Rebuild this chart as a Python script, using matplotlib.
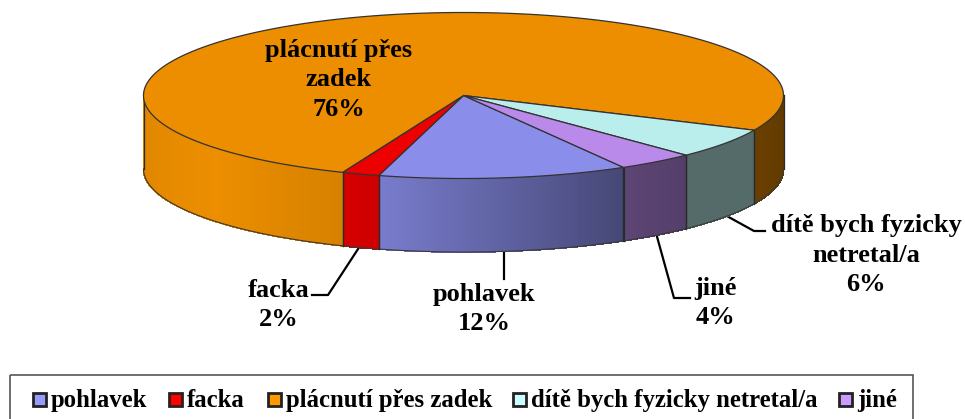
import numpy as np
import matplotlib
matplotlib.use('Agg')
import matplotlib.pyplot as plt
from matplotlib.patches import Rectangle

plt.rcParams['font.family'] = ['Liberation Serif']
plt.rcParams['font.weight'] = 'bold'

# pie data, clockwise from the pohlavek slice
categories = ['pohlavek', 'facka', 'plácnutí přes zadek', 'dítě bych fyzicky netretal/a', 'jiné']
values = [12.6, 1.9, 75.7, 5.9, 3.9]
top_colors = ['#8A8EEA', '#EC0000', '#EC8E00', '#BAEEEC', '#BA8AEA']
legend_colors = ['#9999FF', '#FF0000', '#FF9900', '#CCFFFF', '#CC99FF']

# geometry in pixels
cx, cy = 463.5, 95.5
rx, ry = 320, 83
depth = 73.5
start_angle = -60.0

# side shading by angle
shade_t = [-180, -140, -115, -105, -60, -46, -25, 0]
shade_v = [0.94, 1.0, 0.92, 0.87, 0.50, 0.45, 0.45, 0.40]


def ell(t):
    t = np.radians(t)
    return cx + rx * np.cos(t), cy - ry * np.sin(t)


fig = plt.figure(figsize=(9.65, 4.19), dpi=100)
ax = fig.add_axes([0, 0, 1, 1])
ax.set_xlim(0, 965)
ax.set_ylim(419, 0)
ax.axis('off')

edges = start_angle - np.cumsum([0] + values) * 3.6

# sides first, only the front half can be seen
for i in range(len(values)):
    hi, lo = edges[i], edges[i + 1]
    rgb = np.array(matplotlib.colors.to_rgb(top_colors[i]))
    for k in (0, -360):
        a = min(hi, 0 + k)
        b = max(lo, -180 + k)
        if a <= b:
            continue
        ts = np.linspace(a, b, int((a - b) * 2) + 2)
        for t0, t1 in zip(ts[:-1], ts[1:]):
            x0, y0 = ell(t0)
            x1, y1 = ell(t1)
            c = rgb * np.interp((t0 + t1) / 2 - k, shade_t, shade_v)
            # no antialiasing here or the strips show seams
            ax.fill([x0, x1, x1, x0], [y0, y1, y1 + depth, y0 + depth],
                    color=c, lw=0.6, antialiased=False, zorder=2)
        xs, ys = ell(ts)
        ax.plot(xs, ys + depth, color='#3a3a3a', lw=0.8, zorder=3)
        for t in (a, b):
            x, y = ell(t)
            ax.plot([x, x], [y, y + depth], color='#2a2a2a', lw=0.9, zorder=3)

# top of the pie
for i in range(len(values)):
    ts = np.linspace(edges[i], edges[i + 1], 300)
    xs, ys = ell(ts)
    ax.fill(np.r_[cx, xs], np.r_[cy, ys], facecolor=top_colors[i],
            edgecolor='#333333', lw=0.9, zorder=4, joinstyle='miter')

# leader lines
ax.plot([360, 328, 312], [246, 295, 295], color='k', lw=1.6, zorder=1)
ax.plot([504, 504], [248, 279], color='k', lw=1.6, zorder=1)
ax.plot([656, 674, 690], [233, 298, 298], color='k', lw=1.6, zorder=1)
ax.plot([725, 754, 765], [215, 231, 231], color='k', lw=1.6, zorder=1)

# data labels
fs = 19
ls = 1.38
ax.text(339, 80, 'plácnutí přes\nzadek\n76%', ha='center', va='center', fontsize=fs, linespacing=ls, zorder=5)
ax.text(279, 305, 'facka\n2%', ha='center', va='center', fontsize=fs, linespacing=ls, zorder=5)
ax.text(484, 309, 'pohlavek\n12%', ha='center', va='center', fontsize=fs, linespacing=ls, zorder=5)
ax.text(715, 303, 'jiné\n4%', ha='center', va='center', fontsize=fs, linespacing=ls, zorder=5)
ax.text(866, 255, 'dítě bych fyzicky\nnetretal/a\n6%', ha='center', va='center', fontsize=fs, linespacing=ls, zorder=5)

# legend, frame runs off the bottom of the image
ax.add_patch(Rectangle((9.5, 375), 903, 60, fill=False, edgecolor='#555555', lw=1.2, zorder=5))
legend_x = [33, 169, 268, 513, 839]
for x, name, c in zip(legend_x, categories, legend_colors):
    ax.add_patch(Rectangle((x, 393), 13, 13, facecolor=c, edgecolor='#222222', lw=2.0, zorder=5))
    ax.text(x + 18, 400, name, ha='left', va='center', fontsize=17.8, zorder=5)

fig.savefig('out.png', dpi=100)
